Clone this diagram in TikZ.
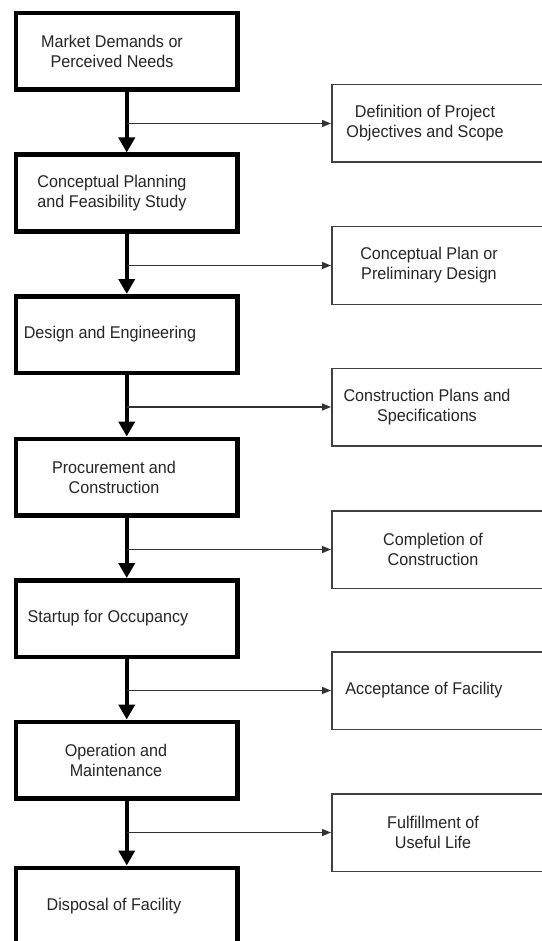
\documentclass[tikz,border=0pt]{standalone}
\usepackage{fontspec}
\setmainfont{Liberation Sans}[FakeStretch=0.95]
\usetikzlibrary{arrows.meta}

\tikzset{
	stage/.style={draw=black, line width=4.5pt, minimum width=221.5pt, minimum height=76.5pt, inner sep=0pt},
	outcome/.style={draw=black!75, line width=1.5pt, minimum width=240pt, minimum height=77.5pt, inner sep=0pt, anchor=west},
	boxtext/.style={text=black!85, align=center, inner sep=0pt, font=\fontsize{17}{20}\selectfont},
	flow/.style={line width=4.5pt, -{Triangle[width=16pt,length=15pt]}},
	branch/.style={line width=1.3pt, draw=black!80, -{Triangle[width=7pt,length=9pt]}}
}

\begin{document}
\begin{tikzpicture}[x=1pt,y=-1pt]
	\useasboundingbox[fill=white] (0,0) rectangle (541,941);
	% stages of the project life cycle
	\node[stage] (s1) at (126.75,51.5) {};
	\node[stage] (s2) at (126.75,193) {};
	\node[stage] (s3) at (126.75,334.5) {};
	\node[stage] (s4) at (126.75,477) {};
	\node[stage] (s5) at (126.75,618.5) {};
	\node[stage] (s6) at (126.75,760) {};
	\node[stage] (s7) at (126.75,906) {};
	\node[boxtext] (t1) at (112,51.5) {Market Demands or\\Perceived Needs};
	\node[boxtext] (t2) at (112,193) {Conceptual Planning\\and Feasibility Study};
	\node[boxtext] (t3) at (110,334.5) {Design and Engineering};
	\node[boxtext] (t4) at (114,477) {Procurement and\\Construction};
	\node[boxtext] (t5) at (108,618.5) {Startup for Occupancy};
	\node[boxtext] (t6) at (116,760) {Operation and\\Maintenance};
	\node[boxtext] (t7) at (114,906) {Disposal of Facility};
	% outcomes
	\node[outcome] (r1) at (331,123.5) {};
	\node[outcome] (r2) at (331,265.5) {};
	\node[outcome] (r3) at (331,407) {};
	\node[outcome] (r4) at (331,549.5) {};
	\node[outcome] (r5) at (331,690.5) {};
	\node[outcome] (r6) at (331,832.5) {};
	\node[boxtext] (u1) at (425,123.5) {Definition of Project\\Objectives and Scope};
	\node[boxtext] (u2) at (429,265.5) {Conceptual Plan or\\Preliminary Design};
	\node[boxtext] (u3) at (427,407) {Construction Plans and\\Specifications};
	\node[boxtext] (u4) at (433,549.5) {Completion of\\Construction};
	\node[boxtext] (u5) at (424,690.5) {Acceptance of Facility};
	\node[boxtext] (u6) at (433,832.5) {Fulfillment of\\Useful Life};
	% connectors
	\draw[flow] (s1.south) -- (s2.north);
	\draw[flow] (s2.south) -- (s3.north);
	\draw[flow] (s3.south) -- (s4.north);
	\draw[flow] (s4.south) -- (s5.north);
	\draw[flow] (s5.south) -- (s6.north);
	\draw[flow] (s6.south) -- (s7.north);
	\draw[branch] (s1.south |- r1.west) -- (r1.west);
	\draw[branch] (s2.south |- r2.west) -- (r2.west);
	\draw[branch] (s3.south |- r3.west) -- (r3.west);
	\draw[branch] (s4.south |- r4.west) -- (r4.west);
	\draw[branch] (s5.south |- r5.west) -- (r5.west);
	\draw[branch] (s6.south |- r6.west) -- (r6.west);
\end{tikzpicture}
\end{document}
